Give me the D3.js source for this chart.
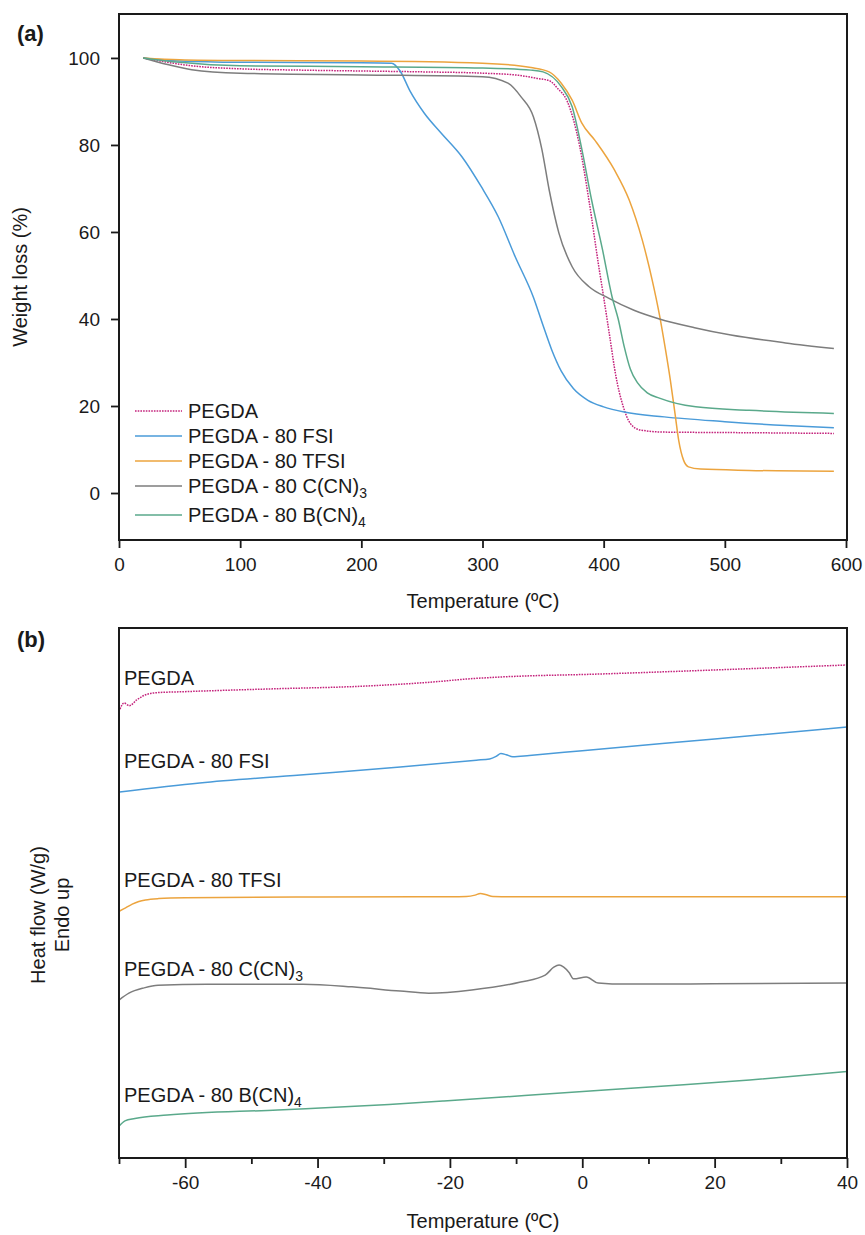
<!DOCTYPE html>
<html>
<head>
<meta charset="utf-8">
<script src="https://cdn.jsdelivr.net/npm/d3@7"></script>
<style>
body { margin: 0; background: #fff; }
text { font-family: "Liberation Sans", Arial, sans-serif; fill: #1a1a1a; }
</style>
</head>
<body>
<div id="chart"></div>
<script>
// (a) TGA curves: [temperature ºC, weight %]
var tgaPEGDA = [[20,100],[40,99],[60,98.2],[100,97.5],[150,97.2],[200,97],[250,96.8],[300,96.5],[330,96],[345,95.3],[355,94.8],[362,93],[370,90],[380,80],[388,67],[396,52],[400,45],[405,36],[410,27],[416,20],[422,16],[430,14.5],[450,14],[500,13.9],[590,13.7]];
var tgaFSI = [[20,100],[50,99.3],[100,99],[200,98.9],[225,98.8],[232,97],[240,92.5],[252,87.3],[266,82.7],[283,77.3],[299,70.4],[313,63.5],[327,54.3],[342,45],[350,38.5],[357,33],[365,28],[375,24],[387,21.3],[400,19.8],[417,18.6],[450,17.5],[500,16.4],[550,15.5],[590,15]];
var tgaTFSI = [[20,100],[50,99.6],[100,99.4],[200,99.3],[300,98.8],[340,97.8],[355,96.8],[365,94.2],[374,90.3],[382,85],[393,81],[409,74.2],[421,67.4],[432,58],[440,49],[446,41],[451,33],[455,26],[459,18],[462,12],[466,7.5],[470,6],[480,5.5],[520,5.2],[590,5]];
var tgaCCN3 = [[20,100],[40,98.5],[60,97.3],[100,96.5],[200,96.1],[300,95.7],[321,94.2],[332,91],[342,86.5],[349,79],[355,69.7],[363,59.8],[374,52],[388,47.4],[404,44.8],[425,42],[446,40],[475,38],[505,36.3],[550,34.5],[590,33.2]];
var tgaBCN4 = [[20,100],[50,99],[100,98.2],[200,98],[300,97.7],[340,97.2],[350,96.8],[365,93.4],[374,88.8],[382,79],[390,67.4],[399,56],[407,45],[412,40],[417,33.6],[422,28.5],[428,25.3],[436,23],[446,21.8],[460,20.6],[476,19.8],[520,19],[590,18.3]];

var tgaXTicks = [0, 100, 200, 300, 400, 500, 600];
var tgaYTicks = [0, 20, 40, 60, 80, 100];

// (b) DSC curves: [temperature ºC, heat flow, stacked, arbitrary offset]
var dscPEGDA = [[-69.85,8.47],[-69.24,8.585],[-68.44,8.534],[-67.33,8.642],[-66.07,8.736],[-64.3,8.779],[-60.3,8.798],[-47.6,8.849],[-32.5,8.906],[-22.6,8.981],[-17.4,9.038],[-12.4,9.075],[2.7,9.132],[20,9.208],[40,9.302]];
var dscFSI = [[-69.9,6.906],[-57.8,7.075],[-42.6,7.226],[-27.5,7.377],[-16,7.506],[-14,7.53],[-13,7.58],[-12.3,7.63],[-11.5,7.61],[-10.5,7.57],[-8,7.595],[0,7.685],[20,7.907],[40,8.13]];
var dscTFSI = [[-69.9,4.66],[-69,4.72],[-68,4.79],[-67,4.84],[-66,4.87],[-64,4.895],[-60,4.91],[-40,4.925],[-20,4.93],[-17.5,4.935],[-16.2,4.96],[-15.4,4.99],[-14.5,4.965],[-13.5,4.935],[-10,4.93],[10,4.93],[40,4.93]];
var dscCCN3 = [[-70,2.98],[-68.5,3.11],[-66.2,3.21],[-64.1,3.26],[-56.7,3.28],[-42.2,3.28],[-34.8,3.23],[-27.5,3.15],[-23.2,3.11],[-16.7,3.17],[-9.3,3.32],[-5.6,3.45],[-4.3,3.6],[-3.5,3.64],[-2.8,3.6],[-2,3.5],[-1.3,3.38],[0.6,3.415],[2.4,3.3],[4.5,3.285],[16.3,3.285],[40,3.3]];
var dscBCN4 = [[-70,0.6],[-69.1,0.7],[-67.6,0.745],[-62.7,0.81],[-46,0.906],[-29.2,1.01],[-20.9,1.075],[-4.9,1.21],[10.2,1.34],[25.3,1.47],[40,1.63]];

var dscXTicks = [-60, -40, -20, 0, 20, 40];
var dscMinorTicks = [-70, -50, -30, -10, 10, 30];

var names = ["PEGDA", "PEGDA - 80 FSI", "PEGDA - 80 TFSI", "PEGDA - 80 C(CN)", "PEGDA - 80 B(CN)"];
var subs = ["", "", "", "3", "4"];
var colors = ["#c4237c", "#4a9bd9", "#eca43e", "#7d7d7d", "#5aa98b"];

var tgaSeries = [tgaPEGDA, tgaFSI, tgaTFSI, tgaCCN3, tgaBCN4];
var dscSeries = [dscPEGDA, dscFSI, dscTFSI, dscCCN3, dscBCN4];

var svg = d3.select("#chart").append("svg")
    .attr("width", 865)
    .attr("height", 1235);

function styleAxis(g) {
    g.select(".domain").remove();
    g.selectAll(".tick line").attr("stroke", "#1a1a1a").attr("stroke-width", 1.8);
    g.selectAll(".tick text").style("font-size", "19px").attr("fill", "#1a1a1a");
}

function dashFor(i) { return i == 0 ? "1.6,1.1" : null; }

// plain hyphen for negatives, like the original figure
function plain(d) { return String(d); }

function addLabel(sel, i, x, y) {
    var t = sel.append("text").attr("x", x).attr("y", y).style("font-size", "20px").text(names[i]);
    if (subs[i]) t.append("tspan").attr("dy", 5).style("font-size", "14px").text(subs[i]);
}

// ---------- (a) TGA ----------
var xA = d3.scaleLinear().domain([0, 600]).range([119, 846]);
var yA = d3.scaleLinear().domain([-10.8, 110.1]).range([540, 14]);

var lineA = d3.line()
    .x(function(d) { return xA(d[0]); })
    .y(function(d) { return yA(d[1]); })
    .curve(d3.curveMonotoneX);

svg.append("g")
    .attr("transform", "translate(0,540)")
    .call(d3.axisBottom(xA).tickValues(tgaXTicks).tickFormat(plain).tickSize(8).tickPadding(10))
    .call(styleAxis);

svg.append("g")
    .attr("transform", "translate(119,0)")
    .call(d3.axisLeft(yA).tickValues(tgaYTicks).tickFormat(plain).tickSize(8).tickPadding(11))
    .call(styleAxis);

svg.append("g")
    .selectAll("path")
    .data(tgaSeries)
    .enter()
    .append("path")
    .attr("fill", "none")
    .attr("stroke", function(d, i) { return colors[i]; })
    .attr("stroke-width", 1.5)
    .attr("stroke-dasharray", function(d, i) { return dashFor(i); })
    .attr("d", lineA);

svg.append("rect")
    .attr("x", 119).attr("y", 14)
    .attr("width", 847 - 119).attr("height", 540 - 14)
    .attr("fill", "none").attr("stroke", "#1a1a1a").attr("stroke-width", 2);

// legend
var legend = svg.append("g");
names.forEach(function(n, i) {
    var ly = 411 + i * 25 + (i == 4 ? 4 : 0);
    legend.append("line")
        .attr("x1", 135).attr("x2", 182).attr("y1", ly).attr("y2", ly)
        .attr("stroke", colors[i]).attr("stroke-width", 1.5)
        .attr("stroke-dasharray", dashFor(i));
    addLabel(legend, i, 188, ly + 7);
});

svg.append("text")
    .attr("x", (119 + 847) / 2).attr("y", 608)
    .attr("text-anchor", "middle").style("font-size", "20px")
    .text("Temperature (ºC)");

svg.append("text")
    .attr("transform", "translate(27," + (14 + 540) / 2 + ") rotate(-90)")
    .attr("text-anchor", "middle").style("font-size", "20px")
    .text("Weight loss (%)");

svg.append("text")
    .attr("x", 17).attr("y", 41)
    .style("font-size", "22px").style("font-weight", "bold")
    .text("(a)");

// ---------- (b) DSC ----------
var xB = d3.scaleLinear().domain([-70, 40]).range([119, 847]);
var yB = d3.scaleLinear().domain([0, 10]).range([1158, 628]);

var lineB = d3.line()
    .x(function(d) { return xB(d[0]); })
    .y(function(d) { return yB(d[1]); })
    .curve(d3.curveMonotoneX);

svg.append("g")
    .attr("transform", "translate(0,1158)")
    .call(d3.axisBottom(xB).tickValues(dscMinorTicks).tickSize(6).tickFormat(""))
    .call(styleAxis);

svg.append("g")
    .attr("transform", "translate(0,1158)")
    .call(d3.axisBottom(xB).tickValues(dscXTicks).tickFormat(plain).tickSize(10).tickPadding(8))
    .call(styleAxis);

svg.append("g")
    .selectAll("path")
    .data(dscSeries)
    .enter()
    .append("path")
    .attr("fill", "none")
    .attr("stroke", function(d, i) { return colors[i]; })
    .attr("stroke-width", 1.5)
    .attr("stroke-dasharray", function(d, i) { return dashFor(i); })
    .attr("d", lineB);

svg.append("rect")
    .attr("x", 119).attr("y", 628)
    .attr("width", 847 - 119).attr("height", 1158 - 628)
    .attr("fill", "none").attr("stroke", "#1a1a1a").attr("stroke-width", 2);

// curve labels sit just above each curve's start
var dscLabels = svg.append("g");
dscSeries.forEach(function(s, i) {
    addLabel(dscLabels, i, 124, yB(s[0][1]) - 24);
});

svg.append("text")
    .attr("x", (119 + 847) / 2).attr("y", 1228)
    .attr("text-anchor", "middle").style("font-size", "20px")
    .text("Temperature (ºC)");

var yTitle = svg.append("text")
    .attr("transform", "translate(45," + 915 + ") rotate(-90)")
    .attr("text-anchor", "middle").style("font-size", "20px");
yTitle.append("tspan").attr("x", 0).attr("dy", 0).text("Heat flow (W/g)");
yTitle.append("tspan").attr("x", 0).attr("dy", 24).text("Endo up");

svg.append("text")
    .attr("x", 17).attr("y", 647)
    .style("font-size", "22px").style("font-weight", "bold")
    .text("(b)");
</script>
</body>
</html>
